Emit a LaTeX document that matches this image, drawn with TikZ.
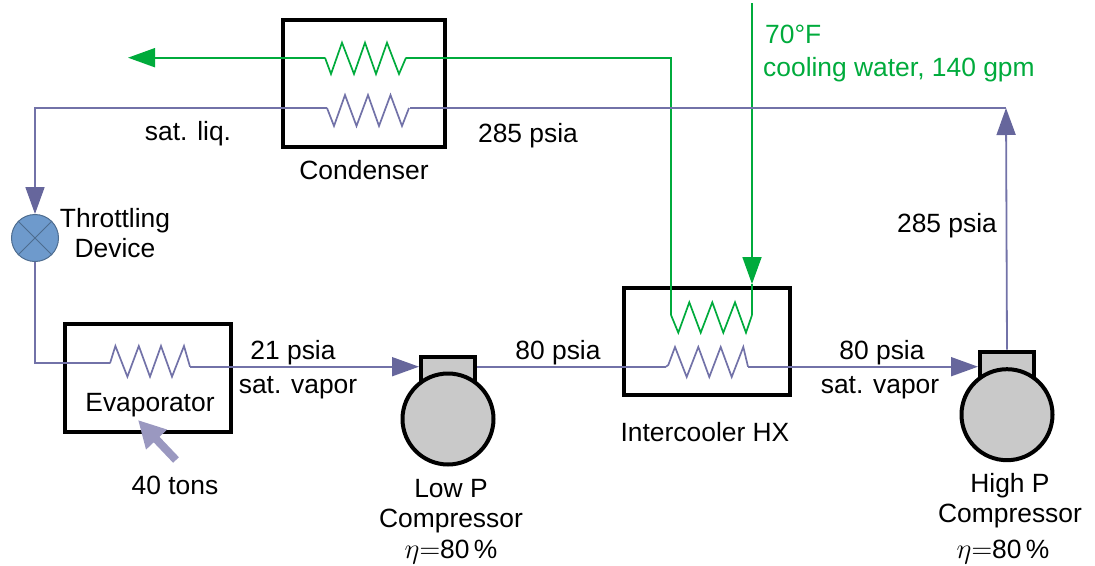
\documentclass[tikz,border=0pt]{standalone}
\usepackage{fontspec}
\setmainfont{Liberation Sans}
\usetikzlibrary{arrows.meta,positioning}
\definecolor{pipeblue}{HTML}{7272A8}
\definecolor{tipblue}{HTML}{66669C}
\definecolor{watergreen}{HTML}{00AB3C}
\definecolor{heatblue}{HTML}{9A98C0}
\definecolor{valveblue}{HTML}{6E9ACC}
\tikzset{
    hx/.style={draw,line width=3.8pt,minimum width=#1,inner sep=0pt},
    pipe/.style={pipeblue,line width=1.8pt},
    water/.style={watergreen,line width=1.8pt},
    coil/.style={line width=1.7pt,line join=miter},
    pipetip/.style={-{Triangle[length=27pt,width=19pt,color=tipblue]}},
    watertip/.style={-{Triangle[length=27pt,width=19pt,color=watergreen]}},
    head/.style={draw,fill=black!21,line width=4pt,minimum width=54pt,minimum height=33pt,inner sep=0pt},
    body/.style={draw,circle,fill=black!21,line width=4pt,minimum size=91pt,inner sep=0pt},
    valve/.style={draw=valveblue!70!black,circle,fill=valveblue,line width=1pt,minimum size=47pt,inner sep=0pt},
    lbl/.style={inner sep=0pt,font=\fontsize{26.4}{30}\selectfont,align=center},
    greenlbl/.style={lbl,watergreen,anchor=west},
}
\newcommand{\effic}{\scalebox{1.15}{$\eta{=}$}80\,\%}
\begin{document}
\begin{tikzpicture}[x=1pt,y=-1pt]
    \useasboundingbox (0,0) rectangle (1095,565);
    % heat exchangers and machines
    \node[hx=162pt,minimum height=127pt] (condenser) at (364,83.5) {};
    \node[hx=166pt,minimum height=108pt] (evaporator) at (148,378) {};
    \node[hx=166pt,minimum height=107pt] (intercooler) at (707,341.5) {};
    \node[head] (low head) at (448,373) {};
    \node[body] (low body) at (448,419) {};
    \node[head] (high head) at (1007,368) {};
    \node[body] (high body) at (1007,414.7) {};
    \node[valve] (valve) at (35,238) {};
    \draw[valveblue!70!black,line width=1pt] (valve.45) -- (valve.225) (valve.135) -- (valve.315);
    % coil ends
    \coordinate (cond water l) at (325,57.7);
    \coordinate (cond water r) at (406,57.7);
    \coordinate (cond ref l) at (327,108);
    \coordinate (cond ref r) at (410,108);
    \coordinate (evap l) at (110,363.3);
    \coordinate (evap r) at (190,366.7);
    \coordinate (ic water l) at (671,315);
    \coordinate (ic water r) at (752,315);
    \coordinate (ic ref l) at (666,366.7);
    \coordinate (ic ref r) at (748,366.7);
    \coordinate (water out) at (128,57.7);
    \coordinate (water in) at (752,3);
    \coordinate (water tip) at (752,284);
    \coordinate (top) at (1006,108);
    % coils
    \draw[water,coil] (cond water l) -- (331,74) -- (342,42.7) -- (354,74) -- (365,42.7)
        -- (376,74) -- (387,42.7) -- (399,74) -- (cond water r);
    \draw[pipe,coil] (cond ref l) -- (334,126) -- (345,95) -- (356.5,126) -- (368,95)
        -- (379,126) -- (390.5,95) -- (402,126) -- (409,108);
    \draw[pipe,coil] (evap l) -- (115.4,346) -- (127.4,376.7) -- (138.8,346) -- (150,376.7)
        -- (161,346) -- (172,376.7) -- (184,346) -- (evap r);
    \draw[water,coil] (ic water l) -- (678.3,332.7) -- (689.3,302.3) -- (700.7,332.7) -- (712.3,302.3)
        -- (723.3,332.7) -- (735,302.3) -- (746,332.7) -- (ic water r);
    \draw[pipe,coil] (ic ref l) -- (668.3,365) -- (675,347) -- (686.7,377) -- (698.3,347)
        -- (709.3,377) -- (720.7,347) -- (731.7,377) -- (743.3,347) -- (ic ref r);
    % connectors
    \draw[water,watertip] (cond water l) -- (water out);
    \draw[water] (cond water r) -| (ic water l);
    \draw[water,watertip] (water in) -- (water tip);
    \draw[water] (water tip) -- (ic water r);
    \draw[pipe,pipetip] (cond ref l) -| (valve.north);
    \draw[pipe] (valve.south) |- (evap l);
    \draw[pipe,pipetip] (evap r) -- (low head.west |- evap r);
    \draw[pipe] (low head.east |- evap r) -- (ic ref l);
    \draw[pipe,pipetip] (ic ref r) -- (high head.west |- ic ref r);
    \draw[pipe,pipetip] (high head.north) -- (top);
    \draw[pipe] (cond ref r) -- (top);
    \draw[heatblue,line width=8pt,-{Triangle[length=27pt,width=27pt]}] (176,460) -- (138,420);
    % labels
    \node[lbl,below=11pt of condenser] (condenser name) {Condenser};
    \node[lbl] (liq) at (188,133.5) {sat. liq.};
    \node[lbl] (cond p) at (528,135.5) {285 psia};
    \node[lbl] (valve name) at (115,233) {Throttling\\Device};
    \node[lbl] (evap name) at (150,405.5) {Evaporator};
    \node[lbl] (load) at (175,485) {40 tons};
    \node[lbl] (evap p) at (293,353) {21 psia};
    \node[lbl] (evap state) at (298,387.5) {sat. vapor};
    \node[lbl] (ic p) at (558,353) {80 psia};
    \node[lbl] (ic name) at (705,432) {Intercooler HX};
    \node[lbl] (out p) at (882,353) {80 psia};
    \node[lbl] (out state) at (880,387.5) {sat. vapor};
    \node[lbl] (high p) at (947,225.5) {285 psia};
    \node[lbl] (low name) at (451,506) {Low P\\Compressor};
    \node[lbl] (low eff) at (451,552) {\effic};
    \node[lbl] (high name) at (1010,501) {High P\\Compressor};
    \node[lbl] (high eff) at (1003,552) {\effic};
    \node[greenlbl] (water t) at (765,34) {70°F};
    \node[greenlbl] (water flow) at (763,69.5) {cooling water, 140 gpm};
\end{tikzpicture}
\end{document}
